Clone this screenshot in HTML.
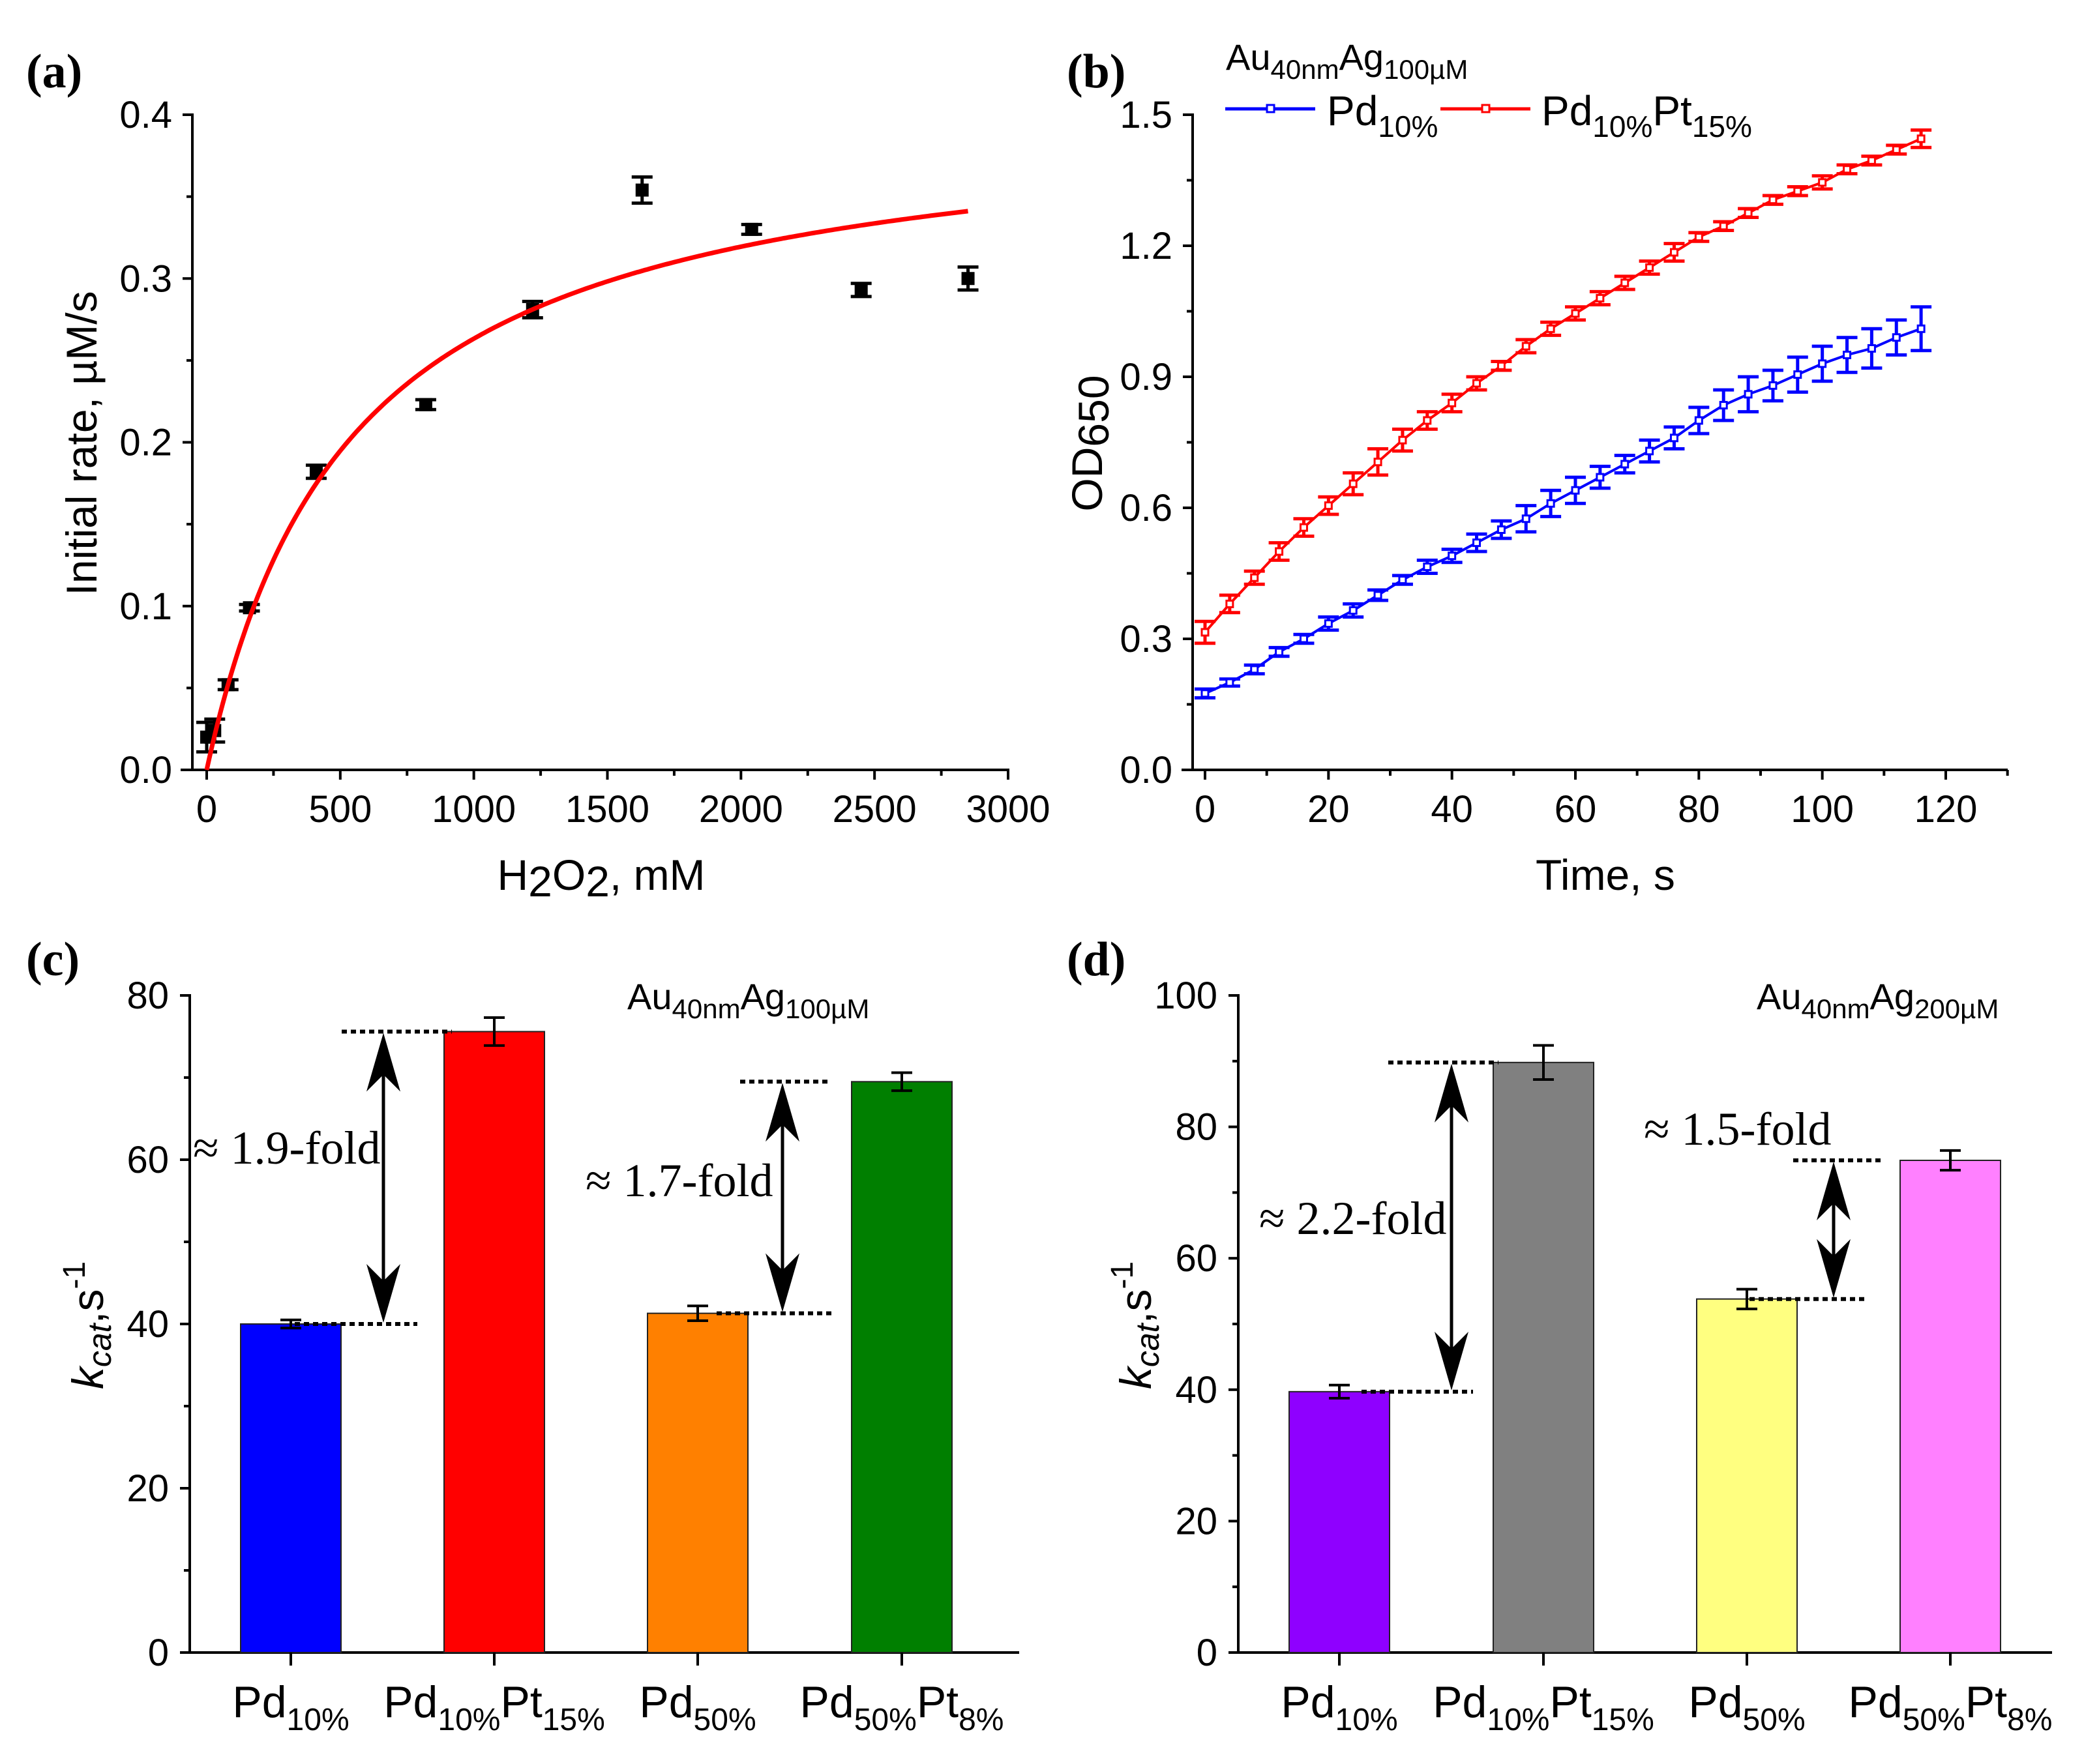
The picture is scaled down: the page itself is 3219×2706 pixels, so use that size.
<!DOCTYPE html>
<html><head><meta charset="utf-8"><style>
html,body{margin:0;padding:0;background:#fff}
svg{display:block}
text{font-family:"Liberation Sans",Arial,sans-serif;fill:#000}
.serif{font-family:"Liberation Serif","Times New Roman",serif}
</style></head><body>
<svg id="fig" xmlns="http://www.w3.org/2000/svg" width="3219" height="2706" viewBox="0 0 3219 2706">
<rect width="3219" height="2706" fill="#fff"/>
<text class="serif" x="40" y="134" font-size="74" font-weight="bold">(a)</text>
<text class="serif" x="1636" y="134" font-size="74" font-weight="bold">(b)</text>
<text class="serif" x="40" y="1496" font-size="74" font-weight="bold">(c)</text>
<text class="serif" x="1636" y="1496" font-size="74" font-weight="bold">(d)</text>

<text transform="translate(148,680) rotate(-90)" text-anchor="middle" font-size="66">Initial rate,  µM/s</text>
<text x="922" y="1365" text-anchor="middle" font-size="66">H<tspan dy="10">2</tspan><tspan dy="-10">O</tspan><tspan dy="10">2</tspan><tspan dy="-10">, mM</tspan></text>

<text transform="translate(1690,680) rotate(-90)" text-anchor="middle" font-size="66">OD<tspan dy="10">650</tspan></text>
<text x="2462" y="1365" text-anchor="middle" font-size="66">Time, s</text>
<text x="1880" y="107" font-size="56">Au<tspan font-size="42" dy="14">40nm</tspan><tspan dy="-14">Ag</tspan><tspan font-size="42" dy="14">100µM</tspan></text>
<g>
<line x1="1879" y1="167" x2="2017" y2="167" stroke="#0000ff" stroke-width="5"/>
<rect x="1943" y="161" width="11" height="11" fill="#fff" stroke="#0000ff" stroke-width="3"/>
<text x="2035" y="192" font-size="64">Pd<tspan font-size="46" dy="18">10%</tspan></text>
</g>
<g>
<line x1="2209" y1="167" x2="2347" y2="167" stroke="#ff0000" stroke-width="5"/>
<rect x="2273" y="161" width="11" height="11" fill="#fff" stroke="#ff0000" stroke-width="3"/>
<text x="2364" y="192" font-size="64">Pd<tspan font-size="46" dy="18">10%</tspan><tspan dy="-18">Pt</tspan><tspan font-size="46" dy="18">15%</tspan></text>
</g>

<text transform="translate(158,2033) rotate(-90)" text-anchor="middle" font-size="68"><tspan font-style="italic">k</tspan><tspan font-style="italic" font-size="50" dy="12">cat</tspan><tspan dy="-12">,s</tspan><tspan font-size="48" dy="-28">-1</tspan></text>
<text x="962" y="1548" font-size="56">Au<tspan font-size="42" dy="14">40nm</tspan><tspan dy="-14">Ag</tspan><tspan font-size="42" dy="14">100µM</tspan></text>
<text class="serif" x="296" y="1785" font-size="72">≈ 1.9-fold</text>
<text class="serif" x="898" y="1835" font-size="72">≈ 1.7-fold</text>

<text transform="translate(1765,2033) rotate(-90)" text-anchor="middle" font-size="68"><tspan font-style="italic">k</tspan><tspan font-style="italic" font-size="50" dy="12">cat</tspan><tspan dy="-12">,s</tspan><tspan font-size="48" dy="-28">-1</tspan></text>
<text x="2694" y="1548" font-size="56">Au<tspan font-size="42" dy="14">40nm</tspan><tspan dy="-14">Ag</tspan><tspan font-size="42" dy="14">200µM</tspan></text>
<text class="serif" x="1931" y="1893" font-size="72">≈ 2.2-fold</text>
<text class="serif" x="2521" y="1756" font-size="72">≈ 1.5-fold</text>
<g id="dyn"></g>
</svg>
<script>
// ---- Panel (a) data ----
const aConc = [0, 30, 80, 160, 410, 820, 1220, 1630, 2040, 2450, 2850];
const aRate = [0.020, 0.024, 0.052, 0.099, 0.182, 0.223, 0.281, 0.354, 0.330, 0.293, 0.300];
const aErr = [0.009, 0.007, 0.003, 0.002, 0.004, 0.003, 0.005, 0.008, 0.003, 0.004, 0.007];
const aFitVmax = [0.406];
const aFitKm = [542];
const aXTicks = [0, 500, 1000, 1500, 2000, 2500, 3000];
const aYTicks = [0.0, 0.1, 0.2, 0.3, 0.4];
// ---- Panel (b) data ----
const bTime = [0,4,8,12,16,20,24,28,32,36,40,44,48,52,56,60,64,68,72,76,80,84,88,92,96,100,104,108,112,116];
const bPd10 = [0.175,0.20,0.23,0.27,0.30,0.335,0.365,0.40,0.435,0.465,0.49,0.52,0.55,0.575,0.61,0.64,0.67,0.70,0.73,0.76,0.80,0.835,0.86,0.88,0.905,0.93,0.95,0.965,0.99,1.01];
const bPd10Err = [0.01,0.008,0.01,0.01,0.01,0.015,0.015,0.012,0.01,0.015,0.015,0.02,0.02,0.03,0.03,0.03,0.025,0.02,0.025,0.025,0.03,0.035,0.04,0.035,0.04,0.04,0.04,0.045,0.04,0.05];
const bPd10Pt15 = [0.315,0.38,0.44,0.50,0.555,0.605,0.655,0.705,0.755,0.80,0.84,0.885,0.925,0.97,1.01,1.045,1.08,1.115,1.15,1.185,1.22,1.245,1.275,1.305,1.325,1.345,1.375,1.395,1.42,1.445];
const bPd10Pt15Err = [0.025,0.02,0.015,0.02,0.02,0.02,0.025,0.03,0.025,0.02,0.02,0.015,0.01,0.015,0.015,0.015,0.015,0.015,0.015,0.02,0.01,0.01,0.01,0.01,0.01,0.015,0.01,0.01,0.01,0.02];
const bXTicks = [0, 20, 40, 60, 80, 100, 120];
const bYTicks = [0.0, 0.3, 0.6, 0.9, 1.2, 1.5];
// ---- Panel (c) data ----
const cCats = ["Pd10%", "Pd10%Pt15%", "Pd50%", "Pd50%Pt8%"];
const cVals = [40.0, 75.6, 41.3, 69.5];
const cErr = [0.5, 1.7, 0.9, 1.1];
const cColors = ["#0000ff", "#ff0000", "#ff8000", "#007f00"];
const cYTicks = [0, 20, 40, 60, 80];
// ---- Panel (d) data ----
const dCats = ["Pd10%", "Pd10%Pt15%", "Pd50%", "Pd50%Pt8%"];
const dVals = [39.7, 89.8, 53.8, 74.9];
const dErr = [1.0, 2.6, 1.5, 1.5];
const dColors = ["#8f00ff", "#808080", "#ffff80", "#ff80ff"];
const dYTicks = [0, 20, 40, 60, 80, 100];

const NS = "http://www.w3.org/2000/svg";
const root = document.getElementById('dyn');
function mk(tag, attrs, parent) {
  const e = document.createElementNS(NS, tag);
  for (const k in attrs) e.setAttribute(k, attrs[k]);
  (parent || root).appendChild(e);
  return e;
}
function lin(d0, d1, r0, r1) { return v => r0 + (v - d0) / (d1 - d0) * (r1 - r0); }
function fmt(v, dec) { return v.toFixed(dec); }

function axes(p) {
  const g = mk('g', {});
  
  
  const yl = mk('line', {x1: p.x0, y1: p.y1 - 2, x2: p.x0, y2: p.y0 + 2, stroke: '#000', 'stroke-width': 4}, g);
  
  
  const xl = mk('line', {x1: p.xLeftExt, y1: p.y0, x2: p.x1, y2: p.y0, stroke: '#000', 'stroke-width': 4}, g);
  
  
  p.yTicks.forEach(v => {
    const y = p.sy(v);
    const t = mk('line', {x1: p.x0 - 15, y1: y, x2: p.x0, y2: y, stroke: '#000', 'stroke-width': 4}, g);
    
    
    const l = mk('text', {x: p.yLabRight, y: y + 20, 'text-anchor': 'end', 'font-size': 58}, g);
    l.textContent = fmt(v, p.ydec);
    
    
  });
  p.yMinor.forEach(v => {
    const y = p.sy(v);
    const t = mk('line', {x1: p.x0 - 9, y1: y, x2: p.x0, y2: y, stroke: '#000', 'stroke-width': 4}, g);
    
    
  });
  if (p.xTicks) {
    p.xTicks.forEach(v => {
      const x = p.sx(v);
      const t = mk('line', {x1: x, y1: p.y0, x2: x, y2: p.y0 + 15, stroke: '#000', 'stroke-width': 4}, g);
      
      
      const l = mk('text', {x: x, y: p.y0 + 80, 'text-anchor': 'middle', 'font-size': 58}, g);
      l.textContent = fmt(v, 0);
      
      
    });
    p.xMinor.forEach(v => {
      const x = p.sx(v);
      const t = mk('line', {x1: x, y1: p.y0, x2: x, y2: p.y0 + 9, stroke: '#000', 'stroke-width': 4}, g);
      
      
    });
  }
}
function errbar(g, x, yTop, yBot, color, cap, w) {
  return mk('path', {d: `M${x-cap},${yTop}H${x+cap}M${x},${yTop}V${yBot}M${x-cap},${yBot}H${x+cap}`, stroke: color, 'stroke-width': w, fill: 'none'}, g);
}

// ===== Panel (a) =====
(function () {
  const sx = lin(0, 3000, 317, 1546), sy = lin(0, 0.4, 1181, 176);
  axes({x0: 295, x1: 1548, y0: 1181, y1: 176, sx, sy, xTicks: aXTicks, yTicks: aYTicks,
    xMinor: [250, 750, 1250, 1750, 2250, 2750], yMinor: [0.05, 0.15, 0.25, 0.35], ydec: 1,
    yLabRight: 264, name: 'a', xLeftExt: 277});
  const g = mk('g', {});
  
  
  aConc.forEach((c, i) => {
    const x = sx(c), y = sy(aRate[i]);
    const e = errbar(g, x, sy(aRate[i] + aErr[i]), sy(aRate[i] - aErr[i]), '#000', 16, 5);
    
    
    const m = mk('rect', {x: x - 10, y: y - 10, width: 20, height: 20, fill: '#000'}, g);
    
    
  });
  let d = '';
  for (let c = 0; c <= 2850; c += 10) {
    const v = aFitVmax[0] * c / (aFitKm[0] + c);
    d += (c ? 'L' : 'M') + sx(c).toFixed(1) + ',' + sy(v).toFixed(1);
  }
  const fit = mk('path', {d, stroke: '#ff0000', 'stroke-width': 7, fill: 'none'});
  
  
})();

// ===== Panel (b) =====
(function () {
  const sx = lin(0, 120, 1848, 2984), sy = lin(0, 1.5, 1181, 176);
  axes({x0: 1829, x1: 3079, y0: 1181, y1: 176, sx, sy, xTicks: bXTicks, yTicks: bYTicks,
    xMinor: [10, 30, 50, 70, 90, 110, 130], yMinor: [0.15, 0.45, 0.75, 1.05, 1.35], ydec: 1,
    yLabRight: 1798, name: 'b', xLeftExt: 1812});
  [[bPd10, bPd10Err, '#0000ff', 'pd10'], [bPd10Pt15, bPd10Pt15Err, '#ff0000', 'pd10pt15']].forEach(([vals, errs, col, nm]) => {
    const g = mk('g', {});
    
    
    let d = '';
    bTime.forEach((t, i) => { d += (i ? 'L' : 'M') + sx(t).toFixed(1) + ',' + sy(vals[i]).toFixed(1); });
    const ln = mk('path', {d, stroke: col, 'stroke-width': 4, fill: 'none'}, g);
    
    
    bTime.forEach((t, i) => {
      const x = sx(t), y = sy(vals[i]);
      const e = errbar(g, x, sy(vals[i] + errs[i]), sy(vals[i] - errs[i]), col, 16, 5);
      
      
      const m = mk('rect', {x: x - 5, y: y - 5, width: 10, height: 10, fill: '#fff', stroke: col, 'stroke-width': 3}, g);
      
      
    });
  });
})();

// ===== Bar panels =====
function barPanel(nm, x0, x1, centers, cats, vals, errs, colors, yTicks, ymax, arrows) {
  const sy = lin(0, ymax, 2535, 1527);
  const minor = [];
  for (let i = 0; i < yTicks.length - 1; i++) minor.push((yTicks[i] + yTicks[i + 1]) / 2);
  axes({x0, x1, y0: 2535, y1: 1527, sx: null, sy, xTicks: null, yTicks, xMinor: [], yMinor: minor, ydec: 0,
    yLabRight: x0 - 32, name: nm, xLeftExt: x0 - 12});
  const g = mk('g', {});
  
  
  vals.forEach((v, i) => {
    const cx = centers[i];
    const b = mk('rect', {x: cx - 77, y: sy(v), width: 154, height: 2535 - sy(v), fill: colors[i], stroke: '#222', 'stroke-width': 2}, g);
    
    
    const e = errbar(g, cx, sy(v + errs[i]), sy(v - errs[i]), '#000', 16, 4);
    
    
    const t = mk('line', {x1: cx, y1: 2535, x2: cx, y2: 2555, stroke: '#000', 'stroke-width': 4}, g);
    
    
    const m = cats[i].match(/^Pd(\d+%)(?:Pt(\d+%))?$/);
    const lab = mk('text', {x: cx, y: 2634, 'text-anchor': 'middle', 'font-size': 68}, g);
    
    
    const parts = [['Pd', 0], [m[1], 1]];
    if (m[2]) { parts.push(['Pt', 0]); parts.push([m[2], 1]); }
    let cur = 0;
    parts.forEach(([txt, sub]) => {
      const ts = mk('tspan', {}, lab);
      if (sub) { ts.setAttribute('font-size', 48); ts.setAttribute('dy', 20 - cur); cur = 20; }
      else { ts.setAttribute('dy', 0 - cur); cur = 0; }
      ts.textContent = txt;
    });
  });
  arrows.forEach(a => {
    const ga = mk('g', {});
    
    
    const yHi = sy(vals[a.hi]), yLo = sy(vals[a.lo]);
    mk('line', {x1: a.dHi[0], y1: yHi, x2: a.dHi[1], y2: yHi, stroke: '#000', 'stroke-width': 6, 'stroke-dasharray': '8,6'}, ga);
    mk('line', {x1: a.dLo[0], y1: yLo, x2: a.dLo[1], y2: yLo, stroke: '#000', 'stroke-width': 6, 'stroke-dasharray': '8,6'}, ga);
    mk('line', {x1: a.x, y1: yHi + 40, x2: a.x, y2: yLo - 40, stroke: '#000', 'stroke-width': 5}, ga);
    mk('path', {d: `M${a.x},${yHi + 2} L${a.x - 26},${yHi + 92} L${a.x},${yHi + 66} L${a.x + 26},${yHi + 92} Z`, fill: '#000'}, ga);
    mk('path', {d: `M${a.x},${yLo - 2} L${a.x - 26},${yLo - 92} L${a.x},${yLo - 66} L${a.x + 26},${yLo - 92} Z`, fill: '#000'}, ga);
  });
}
barPanel('c', 291, 1563, [446, 758, 1070, 1383], cCats, cVals, cErr, cColors, cYTicks, 80, [
  {hi: 1, lo: 0, x: 588, dHi: [524, 693], dLo: [452, 640]},
  {hi: 3, lo: 2, x: 1200, dHi: [1135, 1275], dLo: [1099, 1275]}
]);
barPanel('d', 1899, 3147, [2054, 2367, 2679, 2991], dCats, dVals, dErr, dColors, dYTicks, 100, [
  {hi: 1, lo: 0, x: 2226, dHi: [2129, 2298], dLo: [2088, 2259]},
  {hi: 3, lo: 2, x: 2812, dHi: [2750, 2889], dLo: [2683, 2864]}
]);
</script>
</body></html>
